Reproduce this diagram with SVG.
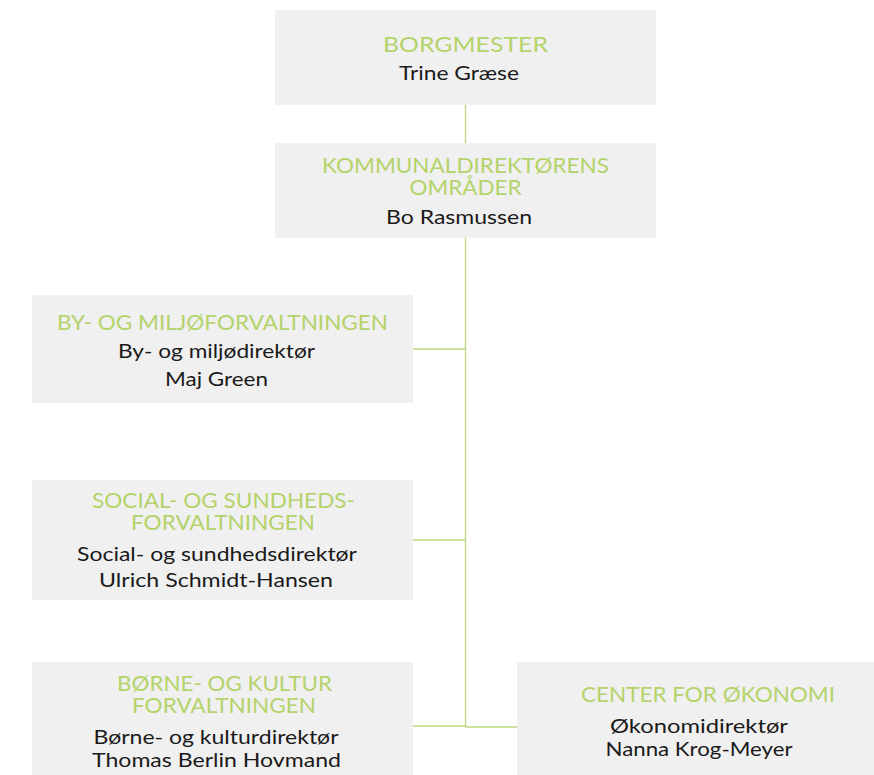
<svg xmlns="http://www.w3.org/2000/svg" width="874" height="775" viewBox="0 0 874 775">
<style>
.box{fill:#f0f0f0}
.t{font-family:Lato,"Open Sans","Liberation Sans",sans-serif;font-size:22px;fill:#b4d36a;text-anchor:middle}
.n{font-family:Lato,"Open Sans","Liberation Sans",sans-serif;font-size:20px;fill:#1a1a1a;text-anchor:middle}
.c{stroke:#bcd87a;stroke-width:1.3;fill:none}
</style>
<rect width="874" height="775" fill="#ffffff"/>
<g id="connectors">
<line class="c" x1="465.5" y1="105" x2="465.5" y2="143"/>
<line class="c" x1="465.5" y1="238" x2="465.5" y2="727"/>
<line class="c" x1="413" y1="349" x2="465.5" y2="349"/>
<line class="c" x1="413" y1="540" x2="465.5" y2="540"/>
<line class="c" x1="413" y1="726" x2="465.5" y2="726"/>
<line class="c" x1="465.5" y1="727" x2="517" y2="727"/>
</g>
<g id="borgmester">
<rect class="box" x="275" y="10" width="381" height="95"/>
<text class="t" x="465.5" y="52" textLength="165" lengthAdjust="spacingAndGlyphs">BORGMESTER</text>
<text class="n" x="459" y="80" textLength="120" lengthAdjust="spacingAndGlyphs">Trine Græse</text>
</g>
<g id="kommunaldirektoer">
<rect class="box" x="275" y="143" width="381" height="95"/>
<text class="t" x="465.5" y="173" textLength="287" lengthAdjust="spacingAndGlyphs">KOMMUNALDIREKTØRENS</text>
<text class="t" x="465.5" y="195" textLength="112" lengthAdjust="spacingAndGlyphs">OMRÅDER</text>
<text class="n" x="459" y="224" textLength="146" lengthAdjust="spacingAndGlyphs">Bo Rasmussen</text>
</g>
<g id="by-miljoe">
<rect class="box" x="32" y="295" width="381" height="108"/>
<text class="t" x="222.5" y="330" textLength="331" lengthAdjust="spacingAndGlyphs">BY- OG MILJØFORVALTNINGEN</text>
<text class="n" x="216.5" y="358" textLength="197" lengthAdjust="spacingAndGlyphs">By- og miljødirektør</text>
<text class="n" x="216.5" y="386" textLength="103" lengthAdjust="spacingAndGlyphs">Maj Green</text>
</g>
<g id="social-sundhed">
<rect class="box" x="32" y="480" width="381" height="120"/>
<text class="t" x="223.5" y="508" textLength="263" lengthAdjust="spacingAndGlyphs">SOCIAL- OG SUNDHEDS-</text>
<text class="t" x="223" y="530" textLength="184" lengthAdjust="spacingAndGlyphs">FORVALTNINGEN</text>
<text class="n" x="217" y="561" textLength="280" lengthAdjust="spacingAndGlyphs">Social- og sundhedsdirektør</text>
<text class="n" x="216" y="587" textLength="234" lengthAdjust="spacingAndGlyphs">Ulrich Schmidt-Hansen</text>
</g>
<g id="boerne-kultur">
<rect class="box" x="32" y="662" width="381" height="113"/>
<text class="t" x="224.5" y="691" textLength="215" lengthAdjust="spacingAndGlyphs">BØRNE- OG KULTUR</text>
<text class="t" x="224" y="713" textLength="184" lengthAdjust="spacingAndGlyphs">FORVALTNINGEN</text>
<text class="n" x="216" y="744" textLength="245" lengthAdjust="spacingAndGlyphs">Børne- og kulturdirektør</text>
<text class="n" x="216.5" y="767" textLength="249" lengthAdjust="spacingAndGlyphs">Thomas Berlin Hovmand</text>
</g>
<g id="center-oekonomi">
<rect class="box" x="517" y="662" width="372" height="113"/>
<text class="t" x="708" y="702" textLength="254" lengthAdjust="spacingAndGlyphs">CENTER FOR ØKONOMI</text>
<text class="n" x="699" y="733" textLength="178" lengthAdjust="spacingAndGlyphs">Økonomidirektør</text>
<text class="n" x="699" y="756" textLength="187" lengthAdjust="spacingAndGlyphs">Nanna Krog-Meyer</text>
</g>
</svg>
